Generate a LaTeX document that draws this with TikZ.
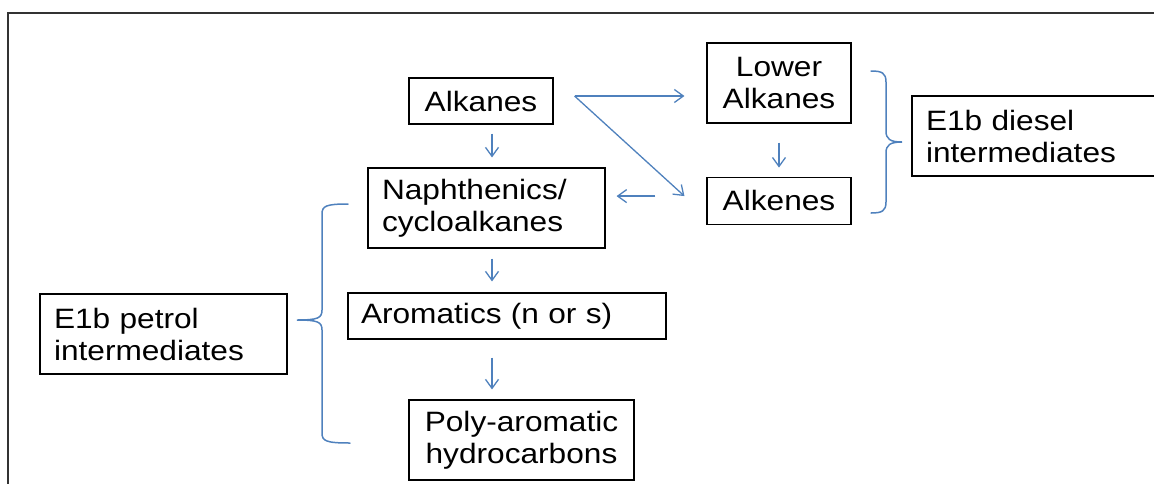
\documentclass[tikz,border=0pt]{standalone}
\usepackage{fontspec}
\setmainfont{Liberation Sans}[FakeStretch=1.13]
\usepackage{tikz}
\usetikzlibrary{positioning,calc,arrows.meta}
\definecolor{flowblue}{RGB}{79,129,189}

\begin{document}
\begin{tikzpicture}[
    x=1pt, y=-1pt,
    node distance=0pt,
    box/.style={draw, line width=1.1pt, inner sep=0pt, align=center, font=\fontsize{28}{32}\selectfont},
    leftbox/.style={box, align=left, inner xsep=14pt},
    flow/.style={draw=flowblue, line width=1.3pt, -{Straight Barb[length=9pt,width=13pt]}},
    brace/.style={draw=flowblue, line width=1.5pt, line cap=round}
]
    \useasboundingbox (0,0) rectangle (1154,483);
    \draw[line width=2.5pt, draw=black!80] (8,13) rectangle (1180,510);

    \node [box, minimum width=144pt, minimum height=46pt] (alkanes) at (481,101) {Alkanes};
    \node [box, minimum width=144pt, minimum height=80pt] (lower) at (779,83) {Lower\\Alkanes};
    \node [box, minimum width=144pt, minimum height=47pt, below=53pt of lower] (alkenes) {Alkenes};
    \node [leftbox, text width=209pt, minimum height=80pt] (naph) at (486.5,208) {Naphthenics/\\cycloalkanes};
    \node [leftbox, inner xsep=13pt, text width=292pt, minimum height=46pt] (arom) at (507,316) {Aromatics (n or s)};
    \node [box, minimum width=225pt, minimum height=80pt] (poly) at (521.5,440) {Poly-aromatic\\hydrocarbons};
    \node [leftbox, text width=219pt, minimum height=80pt] (petrol) at (163.5,334) {E1b petrol\\intermediates};
    \node [leftbox, text width=230pt, minimum height=80pt] (diesel) at (1041,136) {E1b diesel\\intermediates};

    % arrows
    \coordinate (split) at ([xshift=21pt,yshift=5pt]alkanes.east);
    \draw [flow, shorten <=9pt, shorten >=10pt] ([xshift=11pt]alkanes.south) -- ([xshift=11pt]alkanes.south |- naph.north);
    \draw [flow, shorten >=22pt] (split) -- (split -| lower.west);
    \draw [flow] (split) -- ([xshift=-22pt,yshift=4.5pt]alkenes.west);
    \draw [flow, shorten <=19pt, shorten >=9pt] (lower.south) -- (alkenes.north);
    \draw [flow, shorten <=51pt, shorten >=11pt] ([yshift=4.5pt]alkenes.west) -- ([yshift=4.5pt]alkenes.west -| naph.east);
    \draw [flow, shorten <=10pt, shorten >=11pt] ([xshift=5.5pt]naph.south) -- ([xshift=5.5pt]naph.south |- arom.north);
    \draw [flow, shorten <=18pt, shorten >=10pt] ([xshift=-15pt]arom.south) -- ([xshift=-15pt]arom.south |- poly.north);

    % braces
    \draw [brace] (871,71) .. controls (882,71) and (886,73) .. (886,82) -- (886,131)
        .. controls (886,139) and (890,142) .. (902,142)
        .. controls (890,142) and (886,145) .. (886,153) -- (886,202)
        .. controls (886,211) and (882,213) .. (871,213);
    \draw [brace] (348,204) .. controls (326,204) and (322,206) .. (322,214) -- (322,310)
        .. controls (322,318) and (318,320) .. (297,320)
        .. controls (318,320) and (322,322) .. (322,330) -- (322,433)
        .. controls (322,441) and (326,443) .. (350,443);
\end{tikzpicture}
\end{document}
